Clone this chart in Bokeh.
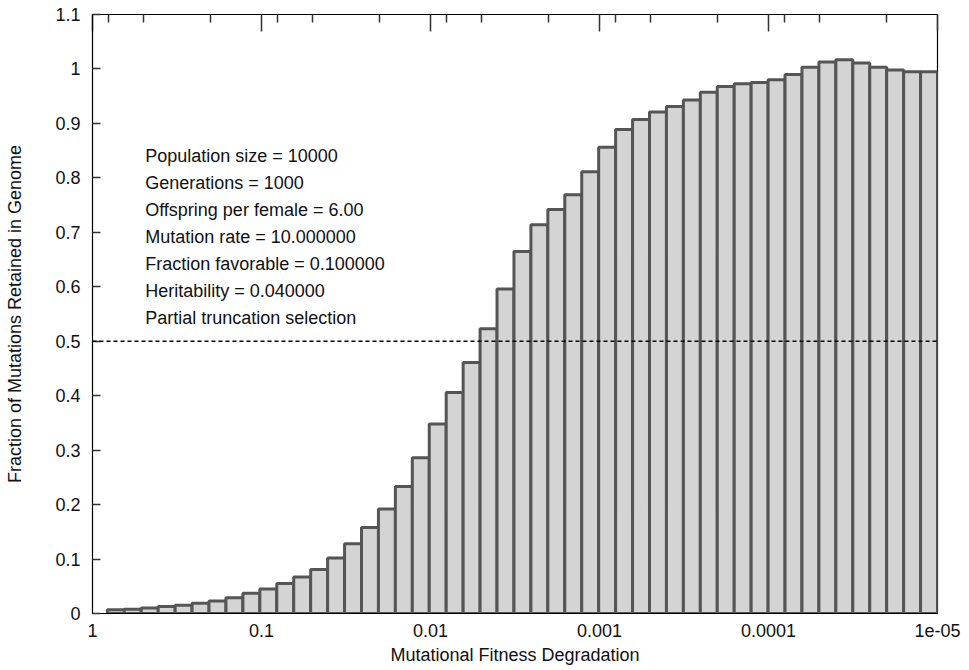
import numpy as np
from bokeh.plotting import figure
from bokeh.models import (ColumnDataSource, Range1d, FixedTicker, LogAxis, Span,
                          CustomJSTickFormatter)
from bokeh.core.properties import value
from bokeh.embed import file_html
from bokeh.resources import INLINE

# fraction of mutations retained, one bin per 0.1 decade of fitness degradation (1 -> 1e-05)
retained = [0.007, 0.008, 0.010, 0.013, 0.015, 0.019, 0.023, 0.029, 0.037, 0.045,
            0.055, 0.067, 0.081, 0.102, 0.128, 0.158, 0.192, 0.233, 0.286, 0.348,
            0.406, 0.461, 0.523, 0.596, 0.665, 0.714, 0.742, 0.769, 0.811, 0.856,
            0.889, 0.907, 0.921, 0.931, 0.943, 0.957, 0.968, 0.973, 0.975, 0.980,
            0.990, 1.003, 1.013, 1.017, 1.011, 1.003, 0.998, 0.995, 0.995]

# bin edges in fitness degradation (log spaced)
bin_edges = np.logspace(-0.088, -5.0, len(retained) + 1)

x_tick_values = [1, 0.1, 0.01, 0.001, 0.0001, 0.00001]
x_tick_labels = ["1", "0.1", "0.01", "0.001", "0.0001", "1e-05"]
x_minor_mult = [0.8, 0.5, 0.2]

y_tick_values = [0, 0.1, 0.2, 0.3, 0.4, 0.5, 0.6, 0.7, 0.8, 0.9, 1.0, 1.1]
y_tick_labels = ["0", "0.1", "0.2", "0.3", "0.4", "0.5", "0.6", "0.7", "0.8", "0.9", "1", "1.1"]

half_line = 0.5

params = ["Population size = 10000",
          "Generations = 1000",
          "Offspring per female = 6.00",
          "Mutation rate = 10.000000",
          "Fraction favorable = 0.100000",
          "Heritability = 0.040000",
          "Partial truncation selection"]

FONT = "Liberation Sans"
FS = "18px"

p = figure(width=969, height=670, x_axis_type="log",
           x_range=Range1d(1, 1e-5), y_range=Range1d(0, 1.1),
           output_backend="svg", toolbar_location=None, tools="",
           min_border_left=92, min_border_right=32, min_border_top=14, min_border_bottom=57)
p.xgrid.visible = False
p.ygrid.visible = False
p.outline_line_color = "black"
p.outline_line_width = 1.2

src = ColumnDataSource(dict(left=bin_edges[:-1], right=bin_edges[1:], top=retained))
p.quad(left="left", right="right", top="top", bottom=0, source=src,
       fill_color="#d4d4d4", line_color="#555555", line_width=3)

p.add_layout(Span(location=half_line, dimension="width", line_color="black",
                  line_width=1.4, line_dash="4 3"))

# parameter text block
text_y = [0.84 - 0.0496 * i for i in range(len(params))]
p.text(x=[0.488] * len(params), y=text_y, text=params, text_font=value(FONT),
       text_font_size=FS, text_baseline="middle", text_align="left", text_color="#111111")

minor = [m * v for v in x_tick_values[:-1] for m in x_minor_mult]
xfmt = CustomJSTickFormatter(args=dict(vals=x_tick_values, labs=x_tick_labels), code="""
for (let i = 0; i < vals.length; i++) {
  if (Math.abs(Math.log10(tick) - Math.log10(vals[i])) < 1e-6) return labs[i];
}
return "";
""")
yfmt = CustomJSTickFormatter(args=dict(vals=y_tick_values, labs=y_tick_labels), code="""
for (let i = 0; i < vals.length; i++) {
  if (Math.abs(tick - vals[i]) < 1e-6) return labs[i];
}
return "";
""")

# bottom ticks sit behind the bars in the original, so only labels here
xa = p.xaxis[0]
xa.ticker = FixedTicker(ticks=x_tick_values, minor_ticks=minor)
xa.formatter = xfmt
xa.major_tick_in = 0
xa.major_tick_out = 0
xa.minor_tick_in = 0
xa.minor_tick_out = 0
xa.major_label_standoff = 10
xa.axis_label = "Mutational Fitness Degradation"
xa.axis_label_standoff = 5

ya = p.yaxis[0]
ya.ticker = FixedTicker(ticks=y_tick_values, minor_ticks=[])
ya.formatter = yfmt
ya.major_tick_in = 8
ya.major_tick_out = 0
ya.minor_tick_in = 0
ya.minor_tick_out = 0
ya.major_label_standoff = 12
ya.axis_label = "Fraction of Mutations Retained in Genome"
ya.axis_label_standoff = 27

for ax in (xa, ya):
    ax.axis_line_color = "black"
    ax.major_tick_line_color = "#333333"
    ax.minor_tick_line_color = "#333333"
    ax.major_tick_line_width = 1.5
    ax.minor_tick_line_width = 1.5
    ax.major_label_text_font = FONT
    ax.major_label_text_font_size = FS
    ax.major_label_text_color = "#111111"
    ax.axis_label_text_font = FONT
    ax.axis_label_text_font_size = FS
    ax.axis_label_text_font_style = "normal"
    ax.axis_label_text_color = "#111111"

# mirrored ticks on top, labels hidden
top = LogAxis(ticker=FixedTicker(ticks=x_tick_values, minor_ticks=minor),
              major_tick_in=17, major_tick_out=0, minor_tick_in=8, minor_tick_out=0,
              major_tick_line_color="#333333", minor_tick_line_color="#333333",
              major_tick_line_width=1.5, minor_tick_line_width=1.5,
              axis_line_color="black", major_label_text_font_size="2px",
              major_label_text_color=None, major_label_standoff=0)
p.add_layout(top, "above")

open("out.html", "w").write(file_html(p, INLINE))
